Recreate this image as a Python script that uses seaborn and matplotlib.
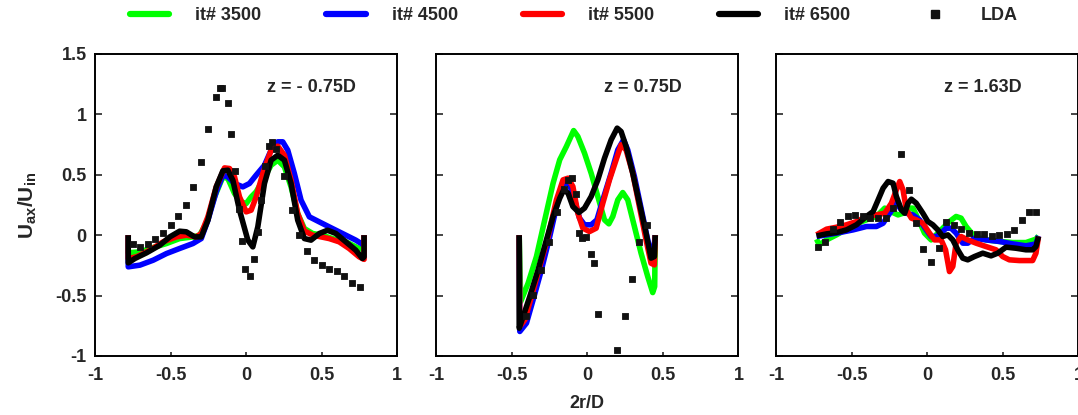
import numpy as np
import pandas as pd
import seaborn as sns
import matplotlib
matplotlib.use("Agg")
import matplotlib.pyplot as plt
from matplotlib.lines import Line2D

sns.set_style("white")
plt.rcParams["font.family"] = ["Liberation Sans", "DejaVu Sans"]
plt.rcParams["font.weight"] = "bold"
plt.rcParams["mathtext.fontset"] = "custom"
plt.rcParams["mathtext.rm"] = "Liberation Sans:bold"
plt.rcParams["mathtext.it"] = "Liberation Sans:bold"
plt.rcParams["mathtext.bf"] = "Liberation Sans:bold"

# ---------------- series labels / colours ----------------
iterations = ["it# 3500", "it# 4500", "it# 5500", "it# 6500"]
colors = ["#00ff00", "#0000ff", "#ff0000", "#000000"]
stations = ["z = - 0.75D", "z = 0.75D", "z = 1.63D"]

# ---------------- z = -0.75D ----------------
p1_x_3500 = [-0.78, -0.78, -0.703, -0.615, -0.527, -0.44, -0.352, -0.308, -0.264, -0.209, -0.154, -0.121, -0.077,
             -0.033, 0.0, 0.033, 0.066, 0.11, 0.165, 0.209, 0.253, 0.297, 0.341, 0.385, 0.44, 0.505, 0.571, 0.659,
             0.747, 0.78, 0.78]
p1_y_3500 = [0.0, -0.146, -0.138, -0.102, -0.069, -0.028, -0.014, 0.0, 0.097, 0.317, 0.483, 0.469, 0.345,
             0.276, 0.262, 0.317, 0.359, 0.455, 0.579, 0.621, 0.566, 0.40, 0.179, 0.055, 0.014, 0.0, -0.028, -0.055,
             -0.11, -0.119, 0.0]
p1_x_4500 = [-0.78, -0.78, -0.703, -0.615, -0.527, -0.44, -0.352, -0.297, -0.253, -0.198, -0.154, -0.121, -0.077,
             -0.022, 0.022, 0.066, 0.121, 0.165, 0.209, 0.242, 0.275, 0.319, 0.363, 0.418, 0.484, 0.549, 0.637,
             0.725, 0.769, 0.78, 0.78]
p1_y_4500 = [0.0, -0.262, -0.248, -0.207, -0.152, -0.110, -0.069, -0.028, 0.124, 0.359, 0.497, 0.483, 0.428,
             0.40, 0.428, 0.497, 0.579, 0.704, 0.773, 0.773, 0.704, 0.51, 0.29, 0.152, 0.11, 0.069, 0.014,
             -0.041, -0.075, -0.08, 0.0]
p1_x_5500 = [-0.78, -0.78, -0.725, -0.637, -0.549, -0.462, -0.396, -0.33, -0.297, -0.253, -0.198, -0.143, -0.11,
             -0.077, -0.044, 0.0, 0.033, 0.066, 0.11, 0.165, 0.209, 0.253, 0.297, 0.341, 0.385, 0.44, 0.495,
             0.549, 0.615, 0.681, 0.747, 0.78, 0.78]
p1_y_5500 = [0.0, -0.193, -0.179, -0.124, -0.055, -0.014, 0.0, -0.014, 0.014, 0.152, 0.40, 0.557, 0.552,
             0.483, 0.317, 0.193, 0.207, 0.317, 0.51, 0.704, 0.737, 0.662, 0.455, 0.179, 0.036, 0.0, -0.014,
             -0.028, -0.055, -0.11, -0.179, -0.20, 0.0]
p1_x_6500 = [-0.78, -0.78, -0.736, -0.659, -0.571, -0.505, -0.44, -0.396, -0.341, -0.297, -0.253, -0.198, -0.154,
             -0.121, -0.088, -0.044, 0.011, 0.044, 0.077, 0.121, 0.165, 0.209, 0.253, 0.297, 0.341, 0.385, 0.429,
             0.484, 0.538, 0.593, 0.659, 0.725, 0.769, 0.78, 0.78]
p1_y_6500 = [0.0, -0.229, -0.193, -0.146, -0.083, -0.014, 0.033, 0.028, -0.014, -0.014, 0.124, 0.40, 0.533,
             0.538, 0.455, 0.207, -0.041, -0.097, 0.069, 0.428, 0.621, 0.662, 0.621, 0.428, 0.124, -0.028, -0.041,
             0.014, 0.041, 0.014, -0.055, -0.124, -0.193, -0.179, 0.0]
p1_lda_x = [-0.75, -0.70, -0.65, -0.60, -0.55, -0.50, -0.45, -0.40, -0.35, -0.30, -0.25, -0.20, -0.17, -0.16,
            -0.12, -0.10, -0.075, -0.05, -0.025, -0.01, 0.025, 0.05, 0.075, 0.10, 0.125, 0.15, 0.17, 0.20, 0.25,
            0.30, 0.35, 0.40, 0.45, 0.50, 0.55, 0.60, 0.65, 0.70, 0.75]
p1_lda_y = [-0.077, -0.097, -0.069, -0.033, 0.019, 0.083, 0.157, 0.251, 0.40, 0.607, 0.883, 1.145, 1.222, 1.222,
            1.098, 0.836, 0.53, 0.22, -0.05, -0.284, -0.334, -0.20, 0.03, 0.295, 0.571, 0.737, 0.773, 0.717,
            0.488, 0.212, 0.0, -0.132, -0.207, -0.243, -0.284, -0.30, -0.34, -0.395, -0.433]

# ---------------- z = 0.75D ----------------
p2_x_3500 = [-0.45, -0.44, -0.391, -0.336, -0.281, -0.226, -0.182, -0.138, -0.09, -0.062, -0.018, 0.026, 0.07,
             0.114, 0.143, 0.169, 0.202, 0.235, 0.268, 0.312, 0.356, 0.40, 0.433, 0.446, 0.45]
p2_y_3500 = [0.0, -0.549, -0.397, -0.177, 0.127, 0.43, 0.624, 0.734, 0.866, 0.817, 0.679, 0.513, 0.32,
             0.127, 0.094, 0.155, 0.292, 0.353, 0.292, 0.072, -0.149, -0.342, -0.475, -0.425, 0.0]
p2_x_4500 = [-0.45, -0.446, -0.402, -0.358, -0.303, -0.248, -0.193, -0.156, -0.121, -0.09, -0.051, -0.018, 0.026,
             0.064, 0.103, 0.158, 0.202, 0.24, 0.268, 0.312, 0.356, 0.40, 0.433, 0.45]
p2_y_4500 = [0.0, -0.797, -0.728, -0.535, -0.287, -0.011, 0.292, 0.43, 0.43, 0.32, 0.141, 0.086, 0.086,
             0.127, 0.292, 0.513, 0.706, 0.789, 0.706, 0.486, 0.224, -0.039, -0.204, 0.0]
p2_x_5500 = [-0.45, -0.446, -0.413, -0.369, -0.314, -0.259, -0.204, -0.16, -0.127, -0.095, -0.062, -0.029, 0.015,
             0.059, 0.103, 0.147, 0.191, 0.224, 0.257, 0.301, 0.345, 0.389, 0.422, 0.444, 0.45]
p2_y_5500 = [0.0, -0.756, -0.701, -0.508, -0.259, -0.011, 0.292, 0.458, 0.472, 0.403, 0.182, 0.058, 0.030,
             0.058, 0.265, 0.458, 0.624, 0.748, 0.706, 0.513, 0.237, -0.039, -0.232, -0.246, 0.0]
p2_x_6500 = [-0.45, -0.45, -0.424, -0.38, -0.325, -0.27, -0.226, -0.182, -0.156, -0.127, -0.095, -0.055, -0.018,
             0.026, 0.07, 0.114, 0.158, 0.198, 0.224, 0.257, 0.301, 0.345, 0.389, 0.422, 0.444, 0.45]
p2_y_6500 = [0.0, -0.77, -0.673, -0.508, -0.287, -0.039, 0.155, 0.306, 0.375, 0.348, 0.237, 0.188, 0.224,
             0.32, 0.458, 0.637, 0.789, 0.886, 0.858, 0.734, 0.513, 0.265, 0.017, -0.19, -0.177, 0.0]
p2_lda_x = [-0.407, -0.358, -0.308, -0.253, -0.198, -0.156, -0.125, -0.103, -0.077, -0.055, -0.035, -0.007,
            0.022, 0.046, 0.073, 0.196, 0.248, 0.295, 0.345, 0.398]
p2_lda_y = [-0.673, -0.494, -0.287, -0.058, 0.196, 0.381, 0.458, 0.477, 0.339, 0.022, -0.022, -0.017,
            -0.155, -0.232, -0.654, -0.949, -0.673, -0.361, -0.058, 0.083]

# ---------------- z = 1.63D ----------------
p3_x_3500 = [-0.732, -0.714, -0.666, -0.6, -0.534, -0.468, -0.402, -0.336, -0.281, -0.237, -0.193, -0.16, -0.127,
             -0.095, -0.062, -0.018, 0.026, 0.07, 0.114, 0.147, 0.191, 0.224, 0.257, 0.312, 0.389, 0.477, 0.565,
             0.653, 0.719, 0.736]
p3_y_3500 = [-0.033, -0.08, -0.039, 0.003, 0.05, 0.094, 0.127, 0.155, 0.224, 0.193, 0.168, 0.182, 0.224,
             0.224, 0.141, 0.017, -0.039, 0.017, 0.072, 0.113, 0.155, 0.141, 0.072, -0.011, -0.039, -0.052, -0.061,
             -0.061, -0.033, -0.006]
p3_x_4500 = [-0.732, -0.666, -0.578, -0.49, -0.402, -0.336, -0.292, -0.248, -0.204, -0.171, -0.138, -0.095,
             -0.051, -0.007, 0.026, 0.059, 0.092, 0.125, 0.158, 0.191, 0.235, 0.268, 0.312, 0.389, 0.477, 0.565,
             0.653, 0.719, 0.736]
p3_y_4500 = [-0.011, 0.003, 0.022, 0.044, 0.072, 0.072, 0.099, 0.182, 0.265, 0.21, 0.182, 0.168,
             0.127, 0.044, -0.011, -0.011, 0.017, 0.058, 0.058, 0.017, -0.066, -0.066, -0.025, -0.039, -0.052,
             -0.072, -0.088, -0.072, -0.006]
p3_x_5500 = [-0.732, -0.666, -0.6, -0.534, -0.468, -0.402, -0.336, -0.281, -0.237, -0.204, -0.182, -0.16, -0.138,
             -0.105, -0.073, -0.029, 0.015, 0.048, 0.092, 0.121, 0.147, 0.169, 0.191, 0.224, 0.268, 0.323, 0.389,
             0.455, 0.499, 0.543, 0.609, 0.697, 0.719, 0.736]
p3_y_5500 = [0.003, 0.05, 0.066, 0.086, 0.113, 0.155, 0.168, 0.182, 0.265, 0.375, 0.444, 0.375, 0.21,
             0.141, 0.127, 0.099, 0.017, -0.039, -0.039, -0.121, -0.301, -0.259, -0.066, -0.011, -0.039, -0.066,
             -0.094, -0.121, -0.177, -0.204, -0.21, -0.21, -0.149, -0.011]
p3_x_6500 = [-0.732, -0.666, -0.6, -0.534, -0.468, -0.402, -0.358, -0.325, -0.292, -0.259, -0.226, -0.204,
             -0.171, -0.149, -0.127, -0.105, -0.073, -0.029, 0.004, 0.037, 0.07, 0.103, 0.136, 0.169, 0.202,
             0.235, 0.268, 0.312, 0.367, 0.422, 0.466, 0.521, 0.587, 0.653, 0.697, 0.719, 0.736]
p3_y_6500 = [-0.006, 0.011, 0.022, 0.044, 0.086, 0.155, 0.196, 0.292, 0.389, 0.444, 0.43, 0.32,
             0.21, 0.182, 0.265, 0.298, 0.265, 0.182, 0.113, 0.086, 0.044, -0.011, 0.003, -0.039, -0.121,
             -0.19, -0.204, -0.177, -0.149, -0.171, -0.149, -0.099, -0.108, -0.121, -0.121, -0.094, -0.011]
p3_lda_x = [-0.725, -0.675, -0.626, -0.576, -0.525, -0.475, -0.424, -0.376, -0.325, -0.275, -0.226, -0.174,
            -0.123, -0.077, -0.026, 0.026, 0.077, 0.125, 0.176, 0.226, 0.275, 0.327, 0.378, 0.426, 0.477, 0.525,
            0.576, 0.626, 0.675, 0.719]
p3_lda_y = [-0.094, -0.055, 0.05, 0.11, 0.155, 0.171, 0.155, 0.143, 0.141, 0.141, 0.229, 0.673,
            0.37, 0.102, -0.113, -0.224, -0.102, 0.113, 0.086, 0.05, 0.022, 0.008, 0.008, -0.003, 0.003, 0.008,
            0.044, 0.127, 0.196, 0.196]

panels = [
    ([(p1_x_3500, p1_y_3500), (p1_x_4500, p1_y_4500), (p1_x_5500, p1_y_5500), (p1_x_6500, p1_y_6500)],
     (p1_lda_x, p1_lda_y)),
    ([(p2_x_3500, p2_y_3500), (p2_x_4500, p2_y_4500), (p2_x_5500, p2_y_5500), (p2_x_6500, p2_y_6500)],
     (p2_lda_x, p2_lda_y)),
    ([(p3_x_3500, p3_y_3500), (p3_x_4500, p3_y_4500), (p3_x_5500, p3_y_5500), (p3_x_6500, p3_y_6500)],
     (p3_lda_x, p3_lda_y)),
]

fig = plt.figure(figsize=(10.78, 4.15), dpi=100)
lefts = [0.0881, 0.4045, 0.7199]
axes = [fig.add_axes([l, 0.1422, 0.2805, 0.7277]) for l in lefts]

for i, (ax, (curves, lda), title) in enumerate(zip(axes, panels, stations)):
    for (xs, ys), name, col in zip(curves, iterations, colors):
        df = pd.DataFrame({"x": xs, "y": ys})
        sns.lineplot(data=df, x="x", y="y", sort=False, estimator=None, color=col,
                     linewidth=4.0, ax=ax, solid_joinstyle="round", solid_capstyle="butt")
    ldf = pd.DataFrame({"x": lda[0], "y": lda[1]})
    sns.scatterplot(data=ldf, x="x", y="y", marker="s", s=20, color="#111111",
                    edgecolor="#111111", linewidth=0.6, ax=ax, zorder=5)
    ax.set_xlim(-1, 1)
    ax.set_ylim(-1, 1.5)
    ax.set_xticks([-1, -0.5, 0, 0.5, 1])
    ax.set_xticklabels(["-1", "-0.5", "0", "0.5", "1"])
    ax.set_yticks([-1, -0.5, 0, 0.5, 1, 1.5])
    ax.set_yticklabels(["-1", "-0.5", "0", "0.5", "1", "1.5"])
    ax.tick_params(axis="y", direction="in", length=5, width=1.2, left=True, right=True,
                   labelsize=13, pad=6)
    ax.tick_params(axis="x", direction="in", length=3, width=1.2, bottom=True, top=False,
                   labelsize=13, pad=8)
    if i > 0:
        ax.tick_params(axis="y", labelleft=False)
    for sp in ax.spines.values():
        sp.set_visible(True)
        sp.set_color("black")
        sp.set_linewidth(1.4)
    ax.set_xlabel("")
    ax.set_ylabel("")
    ax.text(0.135 if i == 0 else 0.114, 1.22, title, fontsize=13, fontweight="bold",
            ha="left", va="center")

axes[0].set_ylabel(r"$\mathrm{U_{ax}/U_{in}}$", fontsize=15, labelpad=12)
axes[1].set_xlabel("2r/D", fontsize=13, fontweight="bold", labelpad=8)

handles = [Line2D([], [], color=c, lw=4.5) for c in colors]
handles.append(Line2D([], [], color="#111111", marker="s", ms=5.5, ls="none"))
labels = iterations + ["LDA"]
fig.legend(handles, labels, loc="center left", bbox_to_anchor=(0.114, 0.962), ncol=5, frameon=False,
           handlelength=2.17, handletextpad=1.44, columnspacing=3.6, borderaxespad=0,
           prop={"weight": "bold", "size": 13})

fig.savefig("out.png", dpi=100)
